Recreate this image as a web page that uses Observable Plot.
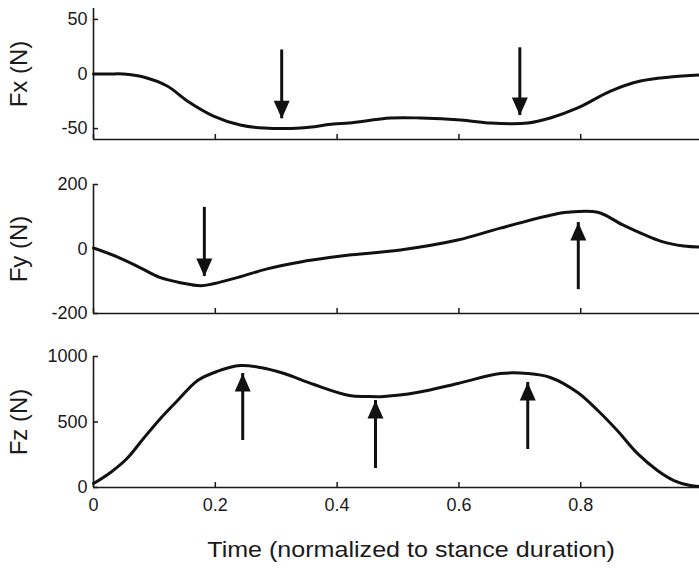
<!DOCTYPE html>
<html>
<head>
<meta charset="utf-8">
<script src="https://cdn.jsdelivr.net/npm/d3@7"></script>
<script src="https://cdn.jsdelivr.net/npm/@observablehq/plot@0.6"></script>
<style>
  body { margin: 0; background: #fff; }
  #chart { position: relative; width: 699px; height: 569px; overflow: hidden; background: #fff;
           font-family: "Liberation Sans", Arial, sans-serif; color: #1a1a1a; }
  #chart svg { position: absolute; left: 0; overflow: visible; max-width: none !important; }
  #title { position: absolute; top: 537px; left: 411px; white-space: nowrap; font-size: 22px;
           transform: translateX(-50%) scaleX(1.14); color: #1a1a1a; }
</style>
</head>
<body>
<div id="chart"></div>
<script>
// ---- data ----
const fxTime  = [0, 0.025, 0.049, 0.082, 0.121, 0.154, 0.197, 0.241, 0.28, 0.34, 0.394, 0.42, 0.488, 0.537, 0.603, 0.652, 0.713, 0.75, 0.795, 0.849, 0.898, 0.947, 0.995];
const fxForce = [0, 0, 0, -2.7, -11, -24.7, -38.5, -46.7, -49.5, -49.5, -45.8, -44.9, -40.3, -40.3, -42.1, -44.9, -44.9, -40.3, -31.1, -15.6, -6.4, -2.7, -0.9];

const fyTime  = [0, 0.039, 0.077, 0.11, 0.143, 0.176, 0.197, 0.241, 0.285, 0.34, 0.394, 0.42, 0.504, 0.598, 0.668, 0.75, 0.778, 0.828, 0.87, 0.931, 0.969, 0.995];
const fyForce = [3, -24.6, -58.5, -89, -104.6, -114, -107.7, -86, -61.5, -40, -24.6, -18.5, -3, 27.7, 64.6, 104.6, 113.8, 113.8, 73.8, 24.6, 9.2, 6.2];

const fzTime  = [0, 0.028, 0.055, 0.082, 0.11, 0.138, 0.171, 0.203, 0.241, 0.274, 0.313, 0.362, 0.42, 0.449, 0.477, 0.531, 0.598, 0.668, 0.713, 0.75, 0.795, 0.828, 0.86, 0.893, 0.926, 0.953, 0.98, 0.995];
const fzForce = [30, 115, 221, 374, 527, 664, 817, 886, 931, 916, 870, 786, 702, 695, 695, 725, 794, 870, 870, 840, 725, 588, 435, 260, 130, 53, 15, 8];

// arrows: panel, time, tail value, tip value
const arrowPanel = ["Fx", "Fx", "Fy", "Fy", "Fz", "Fz", "Fz"];
const arrowTime  = [0.309, 0.70, 0.182, 0.796, 0.245, 0.463, 0.713];
const arrowTail  = [22, 24, 129, -126, 359, 145, 290];
const arrowTip   = [-41, -38, -85, 82, 870, 664, 802];

const panelNames  = ["Fx", "Fy", "Fz"];
const panelLabels = ["Fx (N)", "Fy (N)", "Fz (N)"];
const panelDomains = [[-60, 60], [-200, 200], [0, 1000]];
const panelTicks  = [[50, 0, -50], [200, 0, -200], [1000, 500, 0]];
const xTicks = [0, 0.2, 0.4, 0.6, 0.8];
const xTitle = "Time (normalized to stance duration)";

// ---- drawing ----
const ink = "#1a1a1a";
const series = [
  fxTime.map((t, i) => ({t, v: fxForce[i]})),
  fyTime.map((t, i) => ({t, v: fyForce[i]})),
  fzTime.map((t, i) => ({t, v: fzForce[i]}))
];
const arrows = arrowPanel.map((p, i) => ({panel: p, t: arrowTime[i], tail: arrowTail[i], tip: arrowTip[i]}));

const arrowHead = {
  draw(context) {
    context.moveTo(0, 0);
    context.lineTo(-8, -18);
    context.lineTo(8, -18);
    context.closePath();
  }
};

const W = 699, ML = 93, MR = 0, TICK = 5;
const layout = [
  {top: 0,   height: 150, mt: 8,  mb: 11},
  {top: 170, height: 150, mt: 14, mb: 7},
  {top: 340, height: 190, mt: 16, mb: 43}
];

const chart = document.getElementById("chart");

panelNames.forEach((name, k) => {
  const L = layout[k];
  const dom = panelDomains[k];
  const last = k === 2;
  const frameW = W - ML - MR;
  const frameH = L.height - L.mt - L.mb;
  const arr = arrows.filter(a => a.panel === name);
  const svg = Plot.plot({
    width: W,
    height: L.height,
    marginLeft: ML,
    marginRight: MR,
    marginTop: L.mt,
    marginBottom: L.mb,
    style: {fontFamily: '"Liberation Sans", Arial, sans-serif', color: ink, background: "transparent", overflow: "visible"},
    x: {domain: [0, 0.995]},
    y: {domain: dom},
    marks: [
      Plot.axisY(panelTicks[k], {tickSize: 0, tickPadding: 6, fontSize: 18, tickFormat: d => String(d), label: null}),
      last
        ? Plot.axisX(xTicks, {tickSize: 0, tickPadding: 11, fontSize: 18, tickFormat: d => String(d), label: null})
        : Plot.axisX(xTicks, {tickSize: 0, text: null, label: null}),
      // inward tick marks
      Plot.tickY(panelTicks[k], {y: d => d, stroke: ink, strokeWidth: 1.5, insetRight: frameW - TICK}),
      Plot.tickX(xTicks, {x: d => d, stroke: ink, strokeWidth: 1.5, insetTop: frameH - TICK}),
      Plot.ruleX([0], {stroke: ink, strokeWidth: 1.6}),
      Plot.ruleY([dom[0]], {stroke: ink, strokeWidth: 1.6}),
      Plot.line(series[k], {x: "t", y: "v", stroke: "#111", strokeWidth: 3, curve: "catmull-rom"}),
      Plot.ruleX(arr, {x: "t", y1: "tail", y2: "tip", stroke: "#111", strokeWidth: 3}),
      Plot.dot(arr, {x: "t", y: "tip", symbol: arrowHead, fill: "#111", stroke: "none", r: 5,
                     rotate: d => (d.tip > d.tail ? 180 : 0)}),
      Plot.text([panelLabels[k]], {text: d => d, frameAnchor: "left", dx: -74, rotate: -90,
                                   fontSize: 24, fill: ink, textAnchor: "middle"})
    ]
  });
  svg.style.top = L.top + "px";
  chart.appendChild(svg);
});

const title = document.createElement("div");
title.id = "title";
title.textContent = xTitle;
chart.appendChild(title);
</script>
</body>
</html>
